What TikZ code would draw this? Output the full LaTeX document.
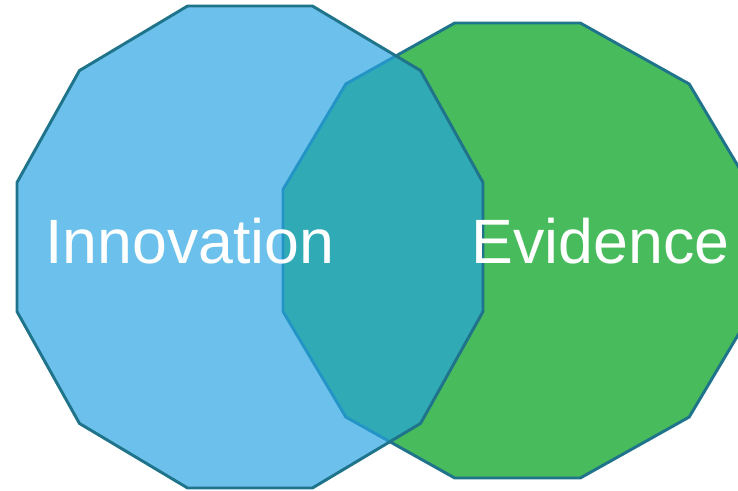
\documentclass[tikz,border=0pt]{standalone}
\usepackage{fontspec}
\setmainfont{Liberation Sans}
\definecolor{innoblue}{RGB}{37,164,225}
\definecolor{evigreen}{RGB}{72,188,92}
\definecolor{edgeteal}{RGB}{31,115,138}
\tikzset{
  venn/.style={draw=edgeteal, line width=2.2pt, line join=miter},
  vennlabel/.style={text=white, anchor=base, inner sep=0pt,
    font=\fontsize{47}{56}\selectfont}
}
\begin{document}
\begin{tikzpicture}[x=0.75pt, y=-0.75pt]
  \useasboundingbox (0,0) rectangle (738,490);
  % evidence set
  \draw[venn, fill=evigreen] plot[samples at={15,45,...,345}]
    ({517.5+242.8*cos(\x)}, {250.5+235.5*sin(\x)}) -- cycle;
  % innovation set, see-through
  \draw[venn, fill=innoblue, fill opacity=0.68] plot[samples at={15,45,...,345}]
    ({250+241.2*cos(\x)}, {247+249.5*sin(\x)}) -- cycle;
  \node[vennlabel] (innovation) at (190,263) {Innovation};
  \node[vennlabel] (evidence) at (600.5,263) {Evidence};
\end{tikzpicture}
\end{document}
